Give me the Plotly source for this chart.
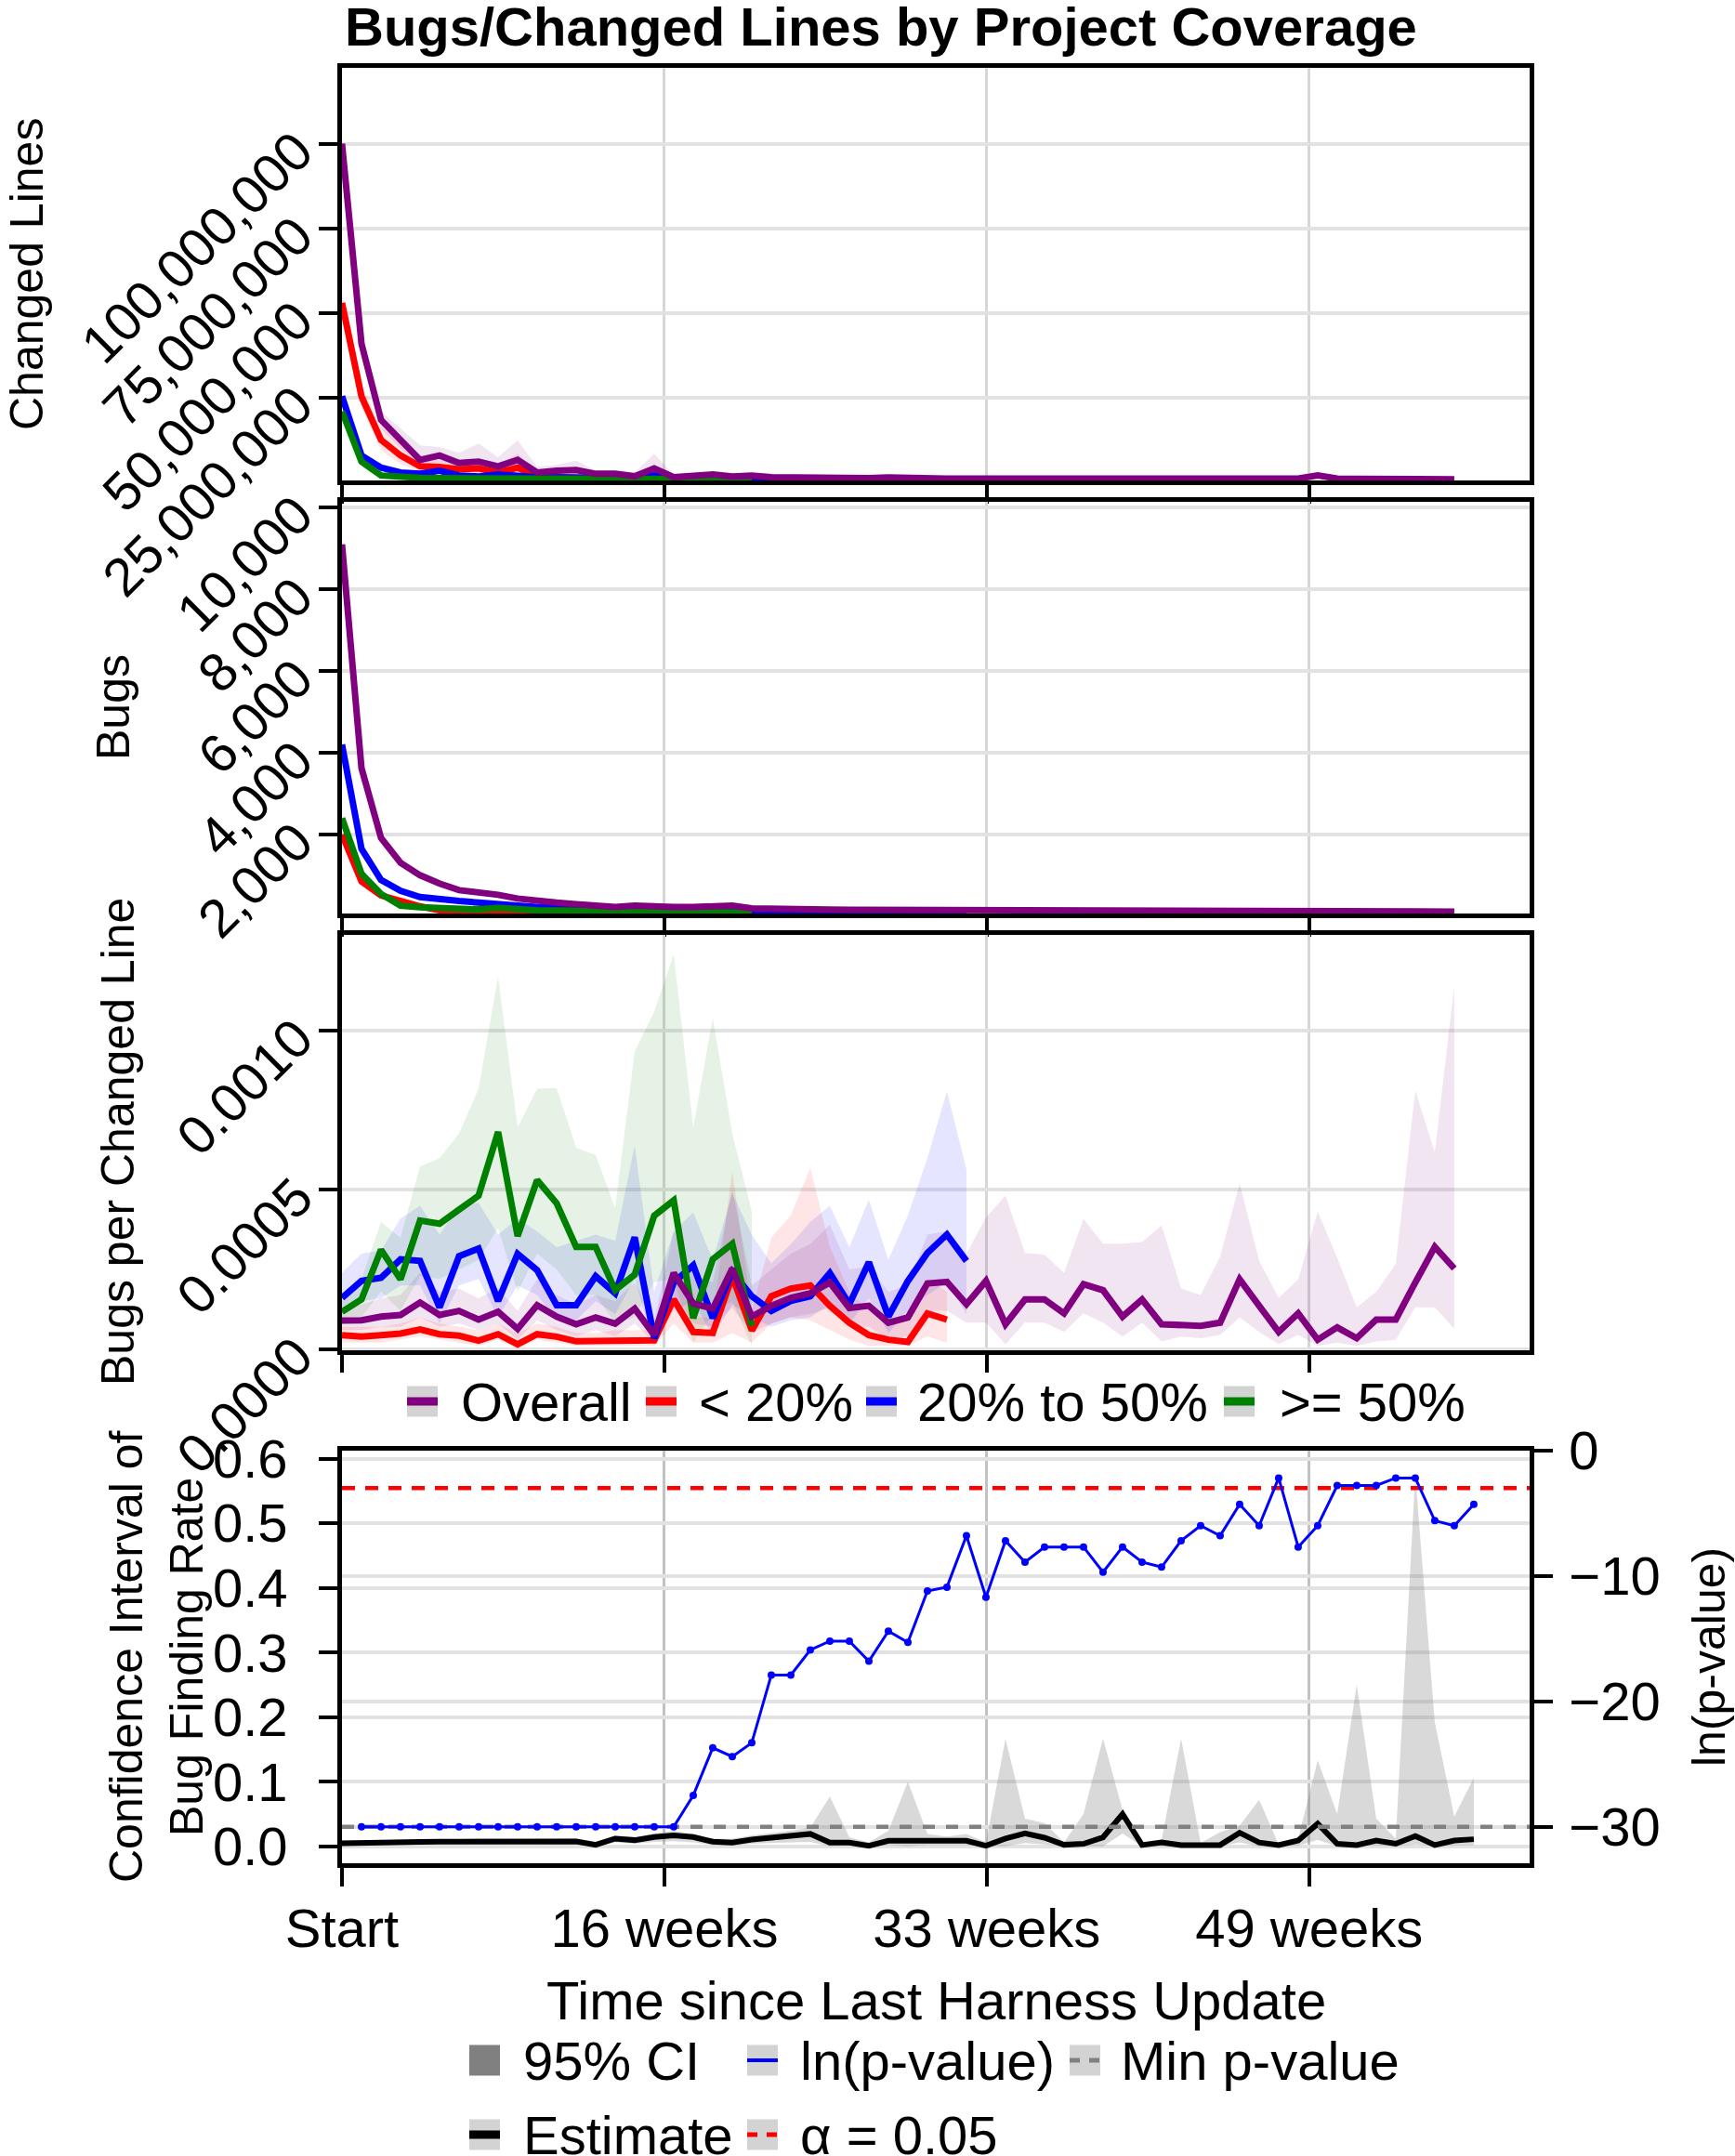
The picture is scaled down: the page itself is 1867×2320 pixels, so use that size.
import plotly.graph_objects as go

W, H = 1867, 2320

# ---------------- data ----------------
weeks_overall = list(range(58))
weeks_lt20 = list(range(32))
weeks_20_50 = list(range(33))
weeks_ge50 = list(range(22))
weeks_est = list(range(59))
weeks_p = list(range(1, 59))

tick_weeks = [0, 16.52, 33.04, 49.56]
tick_week_labels = ["Start", "16 weeks", "33 weeks", "49 weeks"]

# Changed lines
lines_overall = [100e6, 41e6, 18.5e6, 12.6e6, 6.7e6, 8.0e6, 5.8e6, 6.2e6, 4.8e6, 6.7e6,
                 3.0e6, 3.5e6, 3.7e6, 2.6e6, 2.6e6, 1.9e6, 4.2e6, 1.6e6, 1.9e6, 2.4e6,
                 1.8e6, 2.1e6, 1.6e6, 1.5e6, 1.3e6, 1.3e6, 1.3e6, 1.3e6, 1.5e6, 1.3e6,
                 1.2e6, 1.2e6, 1.2e6, 1.2e6, 1.5e6, 1.2e6, 1.1e6, 1.1e6, 1.1e6, 1.1e6,
                 1.2e6, 1.2e6, 1.5e6, 1.3e6, 1.2e6, 1.3e6, 1.1e6, 1.1e6, 1.1e6, 1.2e6,
                 2.1e6, 1.2e6, 1.1e6, 1.1e6, 1.1e6, 1.1e6, 1.1e6, 1.0e6]
lines_overall_hi = [102e6, 43e6, 21e6, 16e6, 11e6, 10.5e6, 8.8e6, 11.5e6, 7.5e6, 12.5e6,
                    4.7e6, 5.2e6, 6.5e6, 3.6e6, 3.6e6, 3.0e6, 8.5e6, 2.2e6, 2.4e6, 3.0e6,
                    2.3e6, 2.6e6, 2.0e6, 1.9e6, 1.7e6, 1.7e6, 1.7e6, 1.7e6, 2.0e6, 1.7e6,
                    1.6e6, 1.6e6, 1.6e6, 1.6e6, 2.0e6, 1.6e6, 1.5e6, 1.5e6, 1.5e6, 1.5e6,
                    1.6e6, 1.6e6, 2.0e6, 1.7e6, 1.6e6, 1.7e6, 1.5e6, 1.5e6, 1.5e6, 1.6e6,
                    2.9e6, 1.6e6, 1.5e6, 1.5e6, 1.5e6, 1.5e6, 1.5e6, 1.4e6]
lines_overall_lo = [98e6, 39e6, 16e6, 10e6, 5.0e6, 6.0e6, 4.5e6, 4.5e6, 3.8e6, 4.5e6,
                    2.4e6, 2.6e6, 2.6e6, 2.0e6, 2.0e6, 1.5e6, 2.5e6, 1.3e6, 1.5e6, 1.9e6,
                    1.4e6, 1.7e6, 1.3e6, 1.2e6, 1.0e6, 1.0e6, 1.0e6, 1.0e6, 1.2e6, 1.0e6,
                    0.9e6, 0.9e6, 0.9e6, 0.9e6, 1.2e6, 0.9e6, 0.8e6, 0.8e6, 0.8e6, 0.8e6,
                    0.9e6, 0.9e6, 1.2e6, 1.0e6, 0.9e6, 1.0e6, 0.8e6, 0.8e6, 0.8e6, 0.9e6,
                    1.6e6, 0.9e6, 0.8e6, 0.8e6, 0.8e6, 0.8e6, 0.8e6, 0.7e6]
lines_lt20 = [53e6, 25.4e6, 12.6e6, 8.0e6, 4.8e6, 4.6e6, 3.9e6, 4.2e6, 3.0e6, 4.4e6,
              1.8e6, 1.6e6, 1.5e6, 1.2e6, 1.2e6, 1.0e6, 1.5e6, 0.9e6, 0.8e6, 0.9e6,
              0.8e6, 0.8e6, 0.7e6, 0.7e6, 0.7e6, 0.7e6, 0.6e6, 0.6e6, 0.6e6, 0.6e6,
              0.6e6, 0.6e6]
lines_lt20_hi = [56e6, 29e6, 16.5e6, 12e6, 8e6, 6.5e6, 6.5e6, 7e6, 5e6, 8.5e6,
                 2.8e6, 2.4e6, 2.2e6, 1.8e6, 1.8e6, 1.5e6, 2.6e6, 1.3e6, 1.2e6, 1.3e6,
                 1.2e6, 1.2e6, 1.0e6, 1.0e6, 1.0e6, 1.0e6, 0.9e6, 0.9e6, 0.9e6, 0.9e6,
                 0.9e6, 0.9e6]
lines_lt20_lo = [50e6, 22e6, 9.5e6, 5.5e6, 3.2e6, 3.2e6, 2.5e6, 2.5e6, 2.0e6, 2.6e6,
                 1.2e6, 1.1e6, 1.0e6, 0.9e6, 0.9e6, 0.8e6, 0.9e6, 0.6e6, 0.6e6, 0.6e6,
                 0.6e6, 0.6e6, 0.6e6, 0.6e6, 0.6e6, 0.6e6, 0.6e6, 0.6e6, 0.6e6, 0.6e6,
                 0.6e6, 0.6e6]
lines_20_50 = [25.5e6, 8.0e6, 4.4e6, 3.0e6, 2.6e6, 3.5e6, 2.1e6, 1.8e6, 2.4e6, 1.8e6,
               1.6e6, 1.5e6, 1.5e6, 1.4e6, 1.4e6, 1.4e6, 2.1e6, 1.2e6, 1.2e6, 1.1e6,
               1.1e6, 1.1e6, 1.0e6, 1.0e6, 1.0e6, 1.0e6, 1.0e6, 1.0e6, 1.0e6, 0.9e6,
               0.9e6, 0.9e6, 0.9e6]
lines_ge50 = [21e6, 6.2e6, 2.1e6, 1.6e6, 1.4e6, 1.3e6, 1.3e6, 1.2e6, 1.2e6, 1.2e6,
              1.1e6, 1.1e6, 1.1e6, 1.1e6, 1.0e6, 1.0e6, 1.0e6, 1.0e6, 1.0e6, 1.0e6,
              1.0e6, 1.0e6]

# Bugs
bugs_overall = [9100, 3625, 1915, 1307, 1003, 798, 638, 585, 524, 433,
                372, 334, 296, 258, 228, 258, 228, 228, 228, 243,
                258, 190, 175, 170, 165, 165, 160, 158, 158, 160,
                155, 145, 140, 140, 150, 140, 135, 135, 135, 140,
                130, 130, 135, 130, 125, 130, 125, 125, 120, 125,
                130, 120, 115, 120, 120, 115, 115, 115]
bugs_lt20 = [2000, 851, 509, 357, 243, 144, 91, 68, 80, 70,
             72, 70, 68, 66, 65, 65, 64, 70, 65, 65,
             70, 65, 66, 68, 70, 68, 66, 65, 65, 65,
             64, 66]
bugs_20_50 = [4200, 1650, 890, 623, 471, 410, 372, 334, 281, 258,
              228, 190, 180, 170, 160, 150, 150, 140, 130, 125,
              120, 118, 115, 112, 110, 110, 108, 105, 105, 102,
              100, 100, 98]
bugs_ge50 = [2400, 1041, 547, 258, 220, 205, 182, 167, 205, 170,
             144, 140, 135, 130, 125, 120, 125, 120, 110, 115,
             110, 90]

# Bugs per changed line
bpl_overall = [0.0000896, 0.0000906, 0.000102, 0.000107, 0.000146, 0.000107, 0.00012, 0.0000925, 0.000117, 0.0000633,
               0.000138, 0.000102, 0.0000779, 0.0000993, 0.0000798, 0.000127, 0.0000438, 0.000239, 0.000143, 0.000127,
               0.000253, 0.000102, 0.000136, 0.000161, 0.000175, 0.000209, 0.000129, 0.000136, 0.0000828, 0.0000993,
               0.000206, 0.000211, 0.000141, 0.000214, 0.0000779, 0.000156, 0.000156, 0.000112, 0.000204, 0.000185,
               0.000102, 0.000156, 0.0000779, 0.0000779, 0.000073, 0.0000828, 0.000219, 0.000136, 0.0000536, 0.000112,
               0.0000292, 0.0000682, 0.0000341, 0.0000925, 0.0000925, 0.000209, 0.000321, 0.000253]
bpl_overall_hi = [0.00013, 0.00014, 0.00016, 0.00017, 0.00024, 0.00018, 0.00019, 0.00016, 0.00019, 0.00012,
                  0.00022, 0.00017, 0.00014, 0.00017, 0.00015, 0.00021, 0.00009, 0.00037, 0.00023, 0.00021,
                  0.00050, 0.00020, 0.00025, 0.00030, 0.00033, 0.00039, 0.00025, 0.00026, 0.00018, 0.00020,
                  0.00036, 0.00037, 0.00030, 0.000414, 0.000482, 0.000302, 0.000297, 0.000239, 0.000409, 0.000331,
                  0.000331, 0.000336, 0.000389, 0.00019, 0.00017, 0.00029, 0.000521, 0.000277, 0.000161, 0.000219,
                  0.000433, 0.000287, 0.000131, 0.00018, 0.000268, 0.000813, 0.000618, 0.00114]
bpl_overall_lo = [0.00006, 0.00006, 0.00007, 0.00007, 0.0001, 0.00007, 0.00008, 0.00006, 0.00008, 0.00003,
                  0.00009, 0.00006, 0.00004, 0.00006, 0.00004, 0.00008, 0.00002, 0.00015, 0.00008, 0.00007,
                  0.00013, 0.00005, 0.00008, 0.0001, 0.00011, 0.00013, 0.00007, 0.00007, 0.00003, 0.00004,
                  0.00012, 0.00012, 0.000083, 0.000083, 0.000015, 0.000083, 0.000083, 0.000054, 0.000112, 0.000083,
                  0.000039, 0.000083, 0.000024, 0.000039, 0.000034, 0.000044, 0.0001, 0.000054, 0.000015, 0.000044,
                  0.00001, 0.00002, 0.00001, 0.000024, 0.000029, 0.000131, 0.000131, 0.000063]
bpl_lt20 = [0.0000438, 0.0000389, 0.0000438, 0.0000487, 0.0000613, 0.0000467, 0.0000419, 0.0000263, 0.0000467, 0.0000146,
            0.0000467, 0.0000389, 0.0000243, 0.0000243, 0.0000263, 0.0000273, 0.0000273, 0.000156, 0.0000536, 0.0000506,
            0.000229, 0.0000584, 0.000166, 0.00019, 0.0002, 0.000136, 0.0000828, 0.0000438, 0.0000292, 0.0000224,
            0.000112, 0.0000925]
bpl_lt20_hi = [0.00007, 0.00007, 0.00007, 0.00008, 0.0001, 0.00008, 0.00007, 0.00006, 0.00008, 0.00005,
               0.00008, 0.00007, 0.00005, 0.00005, 0.00006, 0.00006, 0.00006, 0.00025, 0.0001, 0.0001,
               0.00056, 0.00012, 0.00035, 0.00042, 0.00057, 0.00032, 0.00018, 0.00012, 0.0001, 0.00009,
               0.00022, 0.00018]
bpl_lt20_lo = [0.00002, 0.00002, 0.00002, 0.00003, 0.00004, 0.00003, 0.00002, 0.00001, 0.00003, 0.0,
               0.00003, 0.00002, 0.00001, 0.00001, 0.00001, 0.00001, 0.00001, 0.00008, 0.00002, 0.00002,
               0.00005, 0.00002, 0.00008, 0.0001, 0.00009, 0.00006, 0.00003, 0.00001, 0.00001, 0.00001,
               0.00004, 0.00002]
bpl_20_50 = [0.000161, 0.000214, 0.000224, 0.000282, 0.000277, 0.000131, 0.000292, 0.000316, 0.000151, 0.000299,
             0.000248, 0.000138, 0.000138, 0.000229, 0.000175, 0.000351, 0.0000341, 0.000209, 0.000263, 0.0000974,
             0.000243, 0.000166, 0.00012, 0.000151, 0.000166, 0.000239, 0.000141, 0.000273, 0.000102, 0.000214,
             0.000302, 0.00036, 0.000277]
bpl_20_50_hi = [0.00024, 0.0003, 0.00031, 0.00041, 0.00045, 0.00036, 0.00045, 0.00046, 0.00036, 0.00041,
                0.00037, 0.00032, 0.00034, 0.00036, 0.00034, 0.00064, 0.00018, 0.00037, 0.00043, 0.00028,
                0.00049, 0.00036, 0.00027, 0.00033, 0.0004, 0.00045, 0.00032, 0.00047, 0.00028, 0.00042,
                0.0006, 0.00081, 0.000565]
bpl_20_50_lo = [0.00011, 0.00015, 0.00016, 0.0002, 0.0002, 0.00008, 0.0002, 0.00022, 0.0001, 0.0002,
                0.00017, 0.00009, 0.00009, 0.00015, 0.00011, 0.00022, 0.00001, 0.00012, 0.00015, 0.00004,
                0.00014, 0.0001, 0.00007, 0.00009, 0.0001, 0.00014, 0.00008, 0.00016, 0.00005, 0.00012,
                0.00017, 0.00021, 0.00011]
bpl_ge50 = [0.000117, 0.000156, 0.000312, 0.000219, 0.000404, 0.000394, 0.000438, 0.000482, 0.000682, 0.000355,
            0.000531, 0.000458, 0.000321, 0.000321, 0.000185, 0.000234, 0.000419, 0.000467, 0.0000974, 0.000282,
            0.000331, 0.000073]
bpl_ge50_hi = [0.00015, 0.00022, 0.000399, 0.00035, 0.000574, 0.000599, 0.000677, 0.000818, 0.00117, 0.000696,
               0.000818, 0.00082, 0.000633, 0.000609, 0.000443, 0.000935, 0.00106, 0.00124, 0.000696, 0.00104,
               0.000677, 0.000433]
bpl_ge50_lo = [0.00008, 0.0001, 0.00018, 0.00012, 0.00023, 0.00022, 0.00025, 0.00028, 0.00038, 0.00018,
               0.0003, 0.00025, 0.00017, 0.00017, 0.00008, 0.0001, 0.00021, 0.00022, 0.00002, 0.00011,
               0.00015, 0.00001]

# Bug finding rate
rate_estimate = [0.0048, 0.0048, 0.0058, 0.0062, 0.0067, 0.0072, 0.0072, 0.0086, 0.0081, 0.0081,
                 0.0081, 0.0081, 0.0077, 0.0024, 0.0120, 0.0096, 0.0144, 0.0168, 0.0144, 0.0072,
                 0.0058, 0.0105, 0.0134, 0.0153, 0.0192, 0.0058, 0.0058, 0.0010, 0.0086, 0.0086,
                 0.0086, 0.0086, 0.0086, 0.0010, 0.0120, 0.0200, 0.0134, 0.0024, 0.0040, 0.0140,
                 0.0500, 0.0020, 0.0060, 0.0020, 0.0010, 0.0020, 0.0210, 0.0060, 0.0020, 0.0090,
                 0.0350, 0.0040, 0.0020, 0.0090, 0.0040, 0.0160, 0.0020, 0.0090, 0.0110]
rate_ci_hi = [0.009, 0.009, 0.010, 0.010, 0.011, 0.011, 0.011, 0.013, 0.012, 0.012,
              0.012, 0.012, 0.012, 0.007, 0.017, 0.014, 0.020, 0.024, 0.019, 0.012,
              0.012, 0.017, 0.020, 0.024, 0.029, 0.077, 0.014, 0.006, 0.024, 0.100,
              0.019, 0.015, 0.019, 0.006, 0.166, 0.043, 0.036, 0.006, 0.050, 0.167,
              0.056, 0.004, 0.010, 0.167, 0.005, 0.022, 0.032, 0.072, 0.003, 0.012,
              0.133, 0.050, 0.250, 0.043, 0.012, 0.575, 0.192, 0.046, 0.106]
rate_ci_lo = [0.002, 0.002, 0.002, 0.003, 0.003, 0.003, 0.003, 0.004, 0.004, 0.004,
              0.004, 0.004, 0.003, 0.000, 0.006, 0.004, 0.007, 0.008, 0.006, 0.002,
              0.001, 0.004, 0.005, 0.006, 0.007, 0.000, 0.001, 0.000, 0.002, 0.000,
              0.002, 0.002, 0.002, 0.000, 0.000, 0.005, 0.003, 0.000, 0.000, 0.000,
              0.020, 0.000, 0.000, 0.000, 0.000, 0.000, 0.006, 0.000, 0.000, 0.001,
              0.010, 0.000, 0.000, 0.001, 0.000, 0.003, 0.000, 0.001, 0.002]
ln_p_value = [-30.0, -30.0, -30.0, -30.0, -30.0, -30.0, -30.0, -30.0, -30.0, -30.0,
              -30.0, -30.0, -30.0, -30.0, -30.0, -30.0, -30.0, -27.5, -23.7, -24.4,
              -23.3, -17.9, -17.9, -15.9, -15.2, -15.2, -16.8, -14.4, -15.3, -11.2,
              -10.9, -6.8, -11.7, -7.2, -8.9, -7.7, -7.7, -7.7, -9.7, -7.7,
              -8.9, -9.3, -7.2, -6.0, -6.8, -4.3, -6.0, -2.2, -7.7, -6.0,
              -2.8, -2.8, -2.8, -2.2, -2.2, -5.6, -6.0, -4.3]
ln_alpha = -2.9957          # ln(0.05)
ln_min_p = -30.0
x_span = [0, 60.86]

# ---------------- style ----------------
FONT = "Liberation Sans, Arial, Helvetica, sans-serif"
PURPLE, RED, BLUE, GREEN = "#800080", "#ff0000", "#0000ff", "#008000"
BAND = {"p": "rgba(128,0,128,0.1)", "r": "rgba(255,0,0,0.1)",
        "b": "rgba(0,0,255,0.1)", "g": "rgba(0,128,0,0.1)"}
LW = 7


def px(x):
    return x / W


def py(y):
    return 1 - y / H


fig = go.Figure()


def band(x, lo, hi, color, xa, ya):
    fig.add_trace(go.Scatter(x=list(x) + list(x)[::-1], y=list(hi) + list(lo)[::-1],
                             fill="toself", fillcolor=color, line=dict(width=0),
                             mode="lines", hoverinfo="skip", showlegend=False,
                             xaxis=xa, yaxis=ya))


def line(x, y, color, xa, ya, width=LW, name=None):
    fig.add_trace(go.Scatter(x=x, y=y, mode="lines", line=dict(color=color, width=width),
                             showlegend=False, name=name, xaxis=xa, yaxis=ya))


# panel 1
band(weeks_overall, lines_overall_lo, lines_overall_hi, BAND["p"], "x", "y")
band(weeks_lt20, lines_lt20_lo, lines_lt20_hi, BAND["r"], "x", "y")
line(weeks_lt20, lines_lt20, RED, "x", "y", name="< 20%")
line(weeks_20_50, lines_20_50, BLUE, "x", "y", name="20% to 50%")
line(weeks_ge50, lines_ge50, GREEN, "x", "y", name=">= 50%")
line(weeks_overall, lines_overall, PURPLE, "x", "y", name="Overall")

# panel 2
line(weeks_lt20, bugs_lt20, RED, "x2", "y2", name="< 20%")
line(weeks_20_50, bugs_20_50, BLUE, "x2", "y2", name="20% to 50%")
line(weeks_ge50, bugs_ge50, GREEN, "x2", "y2", name=">= 50%")
line(weeks_overall, bugs_overall, PURPLE, "x2", "y2", name="Overall")

# panel 3
band(weeks_overall, bpl_overall_lo, bpl_overall_hi, BAND["p"], "x3", "y3")
band(weeks_lt20, bpl_lt20_lo, bpl_lt20_hi, BAND["r"], "x3", "y3")
band(weeks_20_50, bpl_20_50_lo, bpl_20_50_hi, BAND["b"], "x3", "y3")
band(weeks_ge50, bpl_ge50_lo, bpl_ge50_hi, BAND["g"], "x3", "y3")
line(weeks_lt20, bpl_lt20, RED, "x3", "y3", name="< 20%")
line(weeks_20_50, bpl_20_50, BLUE, "x3", "y3", name="20% to 50%")
line(weeks_ge50, bpl_ge50, GREEN, "x3", "y3", name=">= 50%")
line(weeks_overall, bpl_overall, PURPLE, "x3", "y3", name="Overall")

# panel 4
band(weeks_est, rate_ci_lo, rate_ci_hi, "rgba(128,128,128,0.3)", "x4", "y4")
line(weeks_est, rate_estimate, "black", "x4", "y4", width=6, name="Estimate")
fig.add_trace(go.Scatter(x=x_span, y=[ln_min_p, ln_min_p], mode="lines",
                         line=dict(color="#808080", width=4.5, dash="13px,12px"),
                         showlegend=False, name="Min p-value", xaxis="x4", yaxis="y5"))
fig.add_trace(go.Scatter(x=x_span, y=[ln_alpha, ln_alpha], mode="lines",
                         line=dict(color="#ff0000", width=4.5, dash="14px,11px"),
                         showlegend=False, name="α = 0.05", xaxis="x4", yaxis="y5"))
fig.add_trace(go.Scatter(x=weeks_p, y=ln_p_value, mode="lines+markers",
                         line=dict(color=BLUE, width=3), marker=dict(color=BLUE, size=8),
                         showlegend=False, name="ln(p-value)", xaxis="x4", yaxis="y5"))

# ---------------- axes ----------------
XDOM = [px(368), px(1646)]
YDOMS = [[py(517.3), py(73.3)], [py(983.3), py(540)], [py(1452.7), py(1006)], [py(2005), py(1560.7)]]

frame = dict(showline=True, linecolor="black", linewidth=4.5, mirror=True,
             ticks="outside", ticklen=20, tickwidth=3.5, tickcolor="black",
             zeroline=False, automargin=False)
xcommon = dict(frame, range=x_span, tickmode="array", tickvals=tick_weeks,
               ticktext=tick_week_labels, showgrid=True, gridcolor="#d6d6d6", gridwidth=3)
ycommon = dict(frame, showgrid=True, gridcolor="#e2e2e2", gridwidth=4,
               tickfont=dict(size=58), ticklabelstandoff=12)

layout = dict(
    width=W, height=H, margin=dict(l=0, r=0, t=0, b=0),
    paper_bgcolor="white", plot_bgcolor="white",
    font=dict(family=FONT, size=58, color="black"),
    showlegend=False,
)
for i in range(4):
    sx = "" if i == 0 else str(i + 1)
    xa = dict(xcommon, domain=XDOM, anchor="y" + sx, showticklabels=(i == 3))
    if i == 3:
        xa.update(gridcolor="#c2c2c2", tickfont=dict(size=58), ticklabelstandoff=-4)
    layout["xaxis" + sx] = xa

layout["yaxis"] = dict(ycommon, domain=YDOMS[0], anchor="x", range=[0.55e6, 122.3e6],
                       tickvals=[25e6, 50e6, 75e6, 100e6], tickformat=",d", tickangle=-45)
layout["yaxis2"] = dict(ycommon, domain=YDOMS[1], anchor="x2", range=[60, 10140],
                        tickvals=[2000, 4000, 6000, 8000, 10000], tickformat=",d", tickangle=-45)
layout["yaxis3"] = dict(ycommon, domain=YDOMS[2], anchor="x3", range=[-0.000003, 0.0013014],
                        tickvals=[0, 0.0005, 0.001], tickformat=".4f", tickangle=-45)
layout["yaxis4"] = dict(ycommon, domain=YDOMS[3], anchor="x4", range=[-0.0262, 0.6128],
                        tickvals=[0, 0.1, 0.2, 0.3, 0.4, 0.5, 0.6], tickformat=".1f",
                        ticklabelstandoff=22)
layout["yaxis5"] = dict(ycommon, domain=YDOMS[3], anchor="x4", overlaying="y4", side="right",
                        range=[-32.9, 0], tickvals=[0, -10, -20, -30], mirror=False,
                        ticklabelstandoff=6)
fig.update_layout(**layout)

# ---------------- titles & legends ----------------
ann = []
shapes = []


def text(x, y, s, size=58, angle=0, xanchor="center", bold=False):
    ann.append(dict(x=px(x), y=py(y), xref="paper", yref="paper", text=("<b>%s</b>" % s) if bold else s,
                    showarrow=False, textangle=angle, xanchor=xanchor, yanchor="middle",
                    font=dict(size=size, family=FONT, color="black")))


text(948, 29, "Bugs/Changed Lines by Project Coverage", bold=True)
text(29, 295, "Changed Lines", size=50, angle=-90)
text(122, 761, "Bugs", size=50, angle=-90)
text(127, 1229, "Bugs per Changed Line", size=50, angle=-90)
text(168, 1783, "Confidence Interval of<br>Bug Finding Rate", size=50, angle=-90)
text(1839, 1783, "ln(p-value)", size=50, angle=-90)
text(1007, 2152, "Time since Last Harness Update")


def key(x, y, fill="#d3d3d3", color=None, width=9, dash=None):
    shapes.append(dict(type="rect", xref="paper", yref="paper", x0=px(x), x1=px(x + 33),
                       y0=py(y + 16.5), y1=py(y - 16.5), fillcolor=fill, line=dict(width=0)))
    if color:
        ln = dict(color=color, width=width)
        if dash:
            ln["dash"] = dash
        shapes.append(dict(type="line", xref="paper", yref="paper", x0=px(x), x1=px(x + 33),
                           y0=py(y), y1=py(y), line=ln))


# legend for panels 1-3
LY = 1508
for kx, tx, col, lab in [(438, 494, PURPLE, "Overall"), (695, 750, RED, "&lt; 20%"),
                         (932, 985, BLUE, "20% to 50%"), (1317, 1375, GREEN, "&gt;= 50%")]:
    key(kx, LY, color=col)
    text(tx, LY, lab, xanchor="left")

# legend for panel 4
R1, R2 = 2217, 2297
key(505, R1, fill="#808080")
text(561, R1, "95% CI", xanchor="left")
key(804, R1, color=BLUE, width=4)
text(859, R1, "ln(p-value)", xanchor="left")
key(1151, R1, color="#808080", width=5, dash="11px,10px")
text(1204, R1, "Min p-value", xanchor="left")
key(505, R2, color="black", width=9)
text(561, R2, "Estimate", xanchor="left")
key(804, R2, color=RED, width=5, dash="11px,10px")
text(859, R2, "α = 0.05", xanchor="left")

fig.update_layout(annotations=ann, shapes=shapes)
fig.write_html("out.html")
